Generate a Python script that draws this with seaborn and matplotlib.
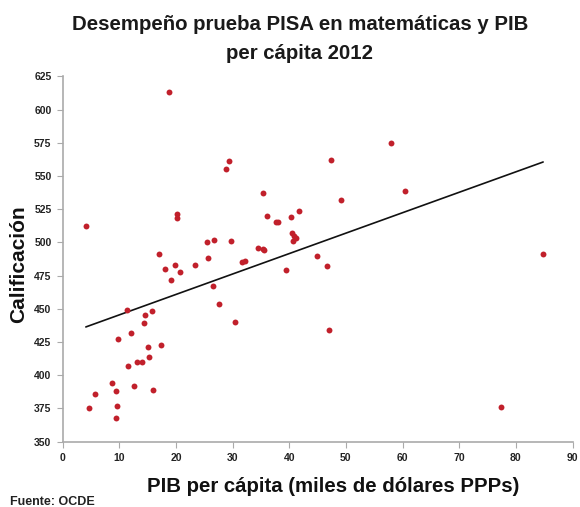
import numpy as np
import pandas as pd
import matplotlib
matplotlib.use("Agg")
import matplotlib.pyplot as plt
import seaborn as sns

# PIB per capita (miles de dolares PPP) y calificacion PISA matematicas 2012
pib = [18.8, 29.4, 28.9, 4.1, 20.1, 20.1, 25.4, 26.7, 29.7, 34.4,
       17.0, 25.6, 18.1, 19.8, 20.7, 23.3, 19.1, 26.6, 27.6, 30.4,
       31.6, 32.2, 11.4, 14.5, 15.8, 14.3, 12.1, 9.8, 15.1, 17.4,
       15.2, 11.6, 13.2, 14.0, 8.7, 5.8, 9.5, 12.6, 16.0, 4.7,
       9.6, 9.4, 58.0, 47.4, 60.5, 35.3, 49.1, 41.8, 36.1, 40.3,
       37.7, 38.0, 40.5, 40.9, 41.1, 40.7, 35.3, 35.6, 44.9, 84.8,
       39.4, 46.6, 47.0, 77.4]
calif = [613, 561, 555, 512, 521, 518, 500, 502, 501, 496,
         491, 488, 480, 483, 478, 483, 472, 467, 454, 440,
         485, 486, 449, 445, 448, 439, 432, 427, 421, 423,
         414, 407, 410, 410, 394, 386, 388, 392, 389, 375,
         377, 368, 575, 562, 539, 537, 532, 524, 520, 519,
         515, 515, 507, 505, 503, 501, 495, 494, 490, 491,
         479, 482, 434, 376]

df = pd.DataFrame({"pib": pib, "calif": calif})

sns.set_style("white")
plt.rcParams["font.family"] = ["Liberation Sans", "DejaVu Sans"]

W, H = 580, 507
fig = plt.figure(figsize=(W / 100, H / 100), dpi=100)
ax = fig.add_axes([62.6 / W, 1 - 441.7 / H, 510 / W, 365.4 / H])

sns.regplot(data=df, x="pib", y="calif", ax=ax, ci=None, truncate=True,
            scatter_kws={"s": 18, "color": "#c1202b", "alpha": 1,
                         "linewidths": 0, "zorder": 3},
            line_kws={"color": "#111111", "linewidth": 1.2, "zorder": 2})

ax.set_xlim(0, 90)
ax.set_ylim(350, 625)
ax.set_xticks(range(0, 91, 10))
ax.set_yticks(range(350, 626, 25))
for lab in ax.get_xticklabels() + ax.get_yticklabels():
    lab.set_fontweight("bold")
    lab.set_fontsize(7.5)
    lab.set_color("#222222")

ax.tick_params(axis="both", direction="out", length=4, width=0.8, color="#aaaaaa",
               pad=4, left=True, bottom=True)
for side in ["top", "right"]:
    ax.spines[side].set_visible(False)
for side in ["left", "bottom"]:
    ax.spines[side].set_color("#aaaaaa")
    ax.spines[side].set_linewidth(1.2)

ax.set_xlabel("")
ax.set_ylabel("")
fig.text(333 / W, 1 - 491.7 / H, "PIB per cápita (miles de dólares PPPs)",
         ha="center", va="baseline", fontsize=14.7, fontweight="bold", color="#111111")
fig.text(19 / W, 1 - 264 / H, "Calificación", ha="center", va="center",
         rotation=90, fontsize=15, fontweight="bold", color="#111111")

fig.text(300 / W, 1 - 30 / H, "Desempeño prueba PISA en matemáticas y PIB",
         ha="center", va="baseline", fontsize=14.7, fontweight="bold", color="#1a1a1a")
fig.text(300 / W, 1 - 59 / H, "per cápita 2012",
         ha="center", va="baseline", fontsize=14.7, fontweight="bold", color="#1a1a1a")
fig.text(10 / W, 1 - 505 / H, "Fuente: OCDE", ha="left", va="baseline", fontsize=9,
         fontweight="bold", color="#222222")

fig.savefig("out.png", dpi=100)
